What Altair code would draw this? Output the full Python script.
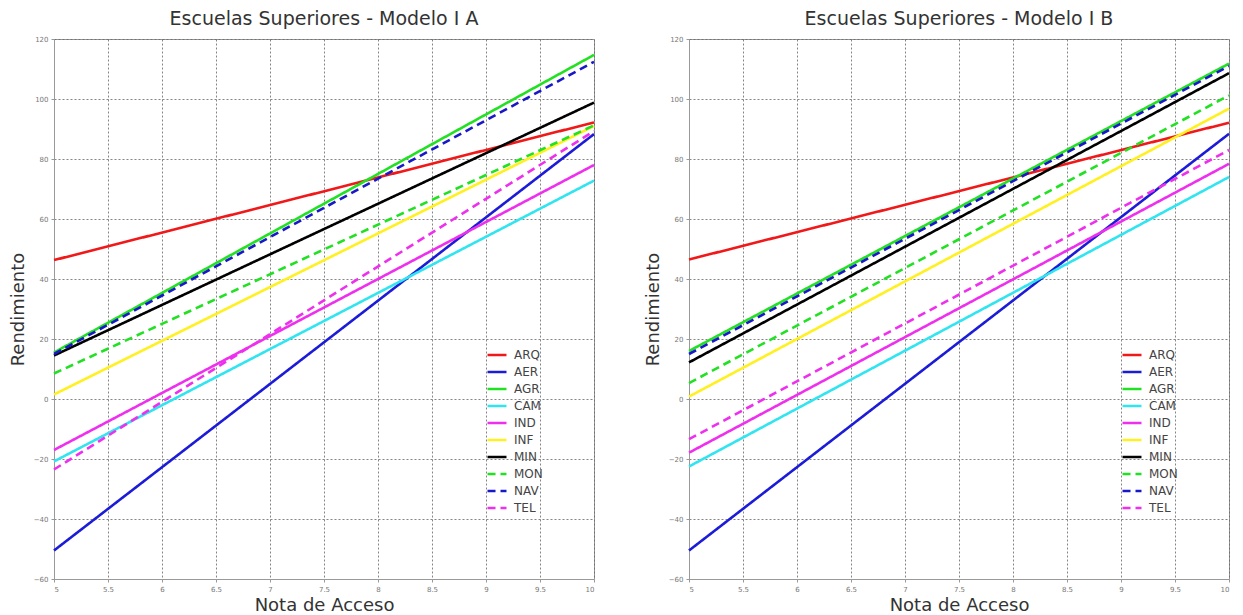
import altair as alt
import pandas as pd

series = ["ARQ", "AER", "AGR", "CAM", "IND", "INF", "MIN", "MON", "NAV", "TEL"]
colors = ["#f01818", "#1c1cd8", "#22e022", "#30e4f0", "#ee30ee", "#fff020", "#000000", "#22e022", "#1818c8", "#ee30ee"]
dashes = [[1, 0], [1, 0], [1, 0], [1, 0], [1, 0], [1, 0], [1, 0], [8, 5], [8, 5], [8, 5]]

x_points = [5, 10]
# Modelo I A: values at nota 5 and nota 10
a_start = [46.3, -50.5, 15.5, -20.8, -17.0, 1.5, 14.5, 8.5, 15.0, -23.5]
a_end = [92.2, 88.3, 114.7, 72.8, 78.0, 91.0, 98.8, 91.2, 112.4, 89.3]
# Modelo I B
b_start = [46.5, -50.5, 16.0, -22.5, -17.9, 0.8, 12.2, 5.3, 15.0, -13.4]
b_end = [92.1, 88.4, 111.8, 74.0, 78.4, 96.8, 108.6, 101.2, 111.0, 83.0]

x_ticks = [5, 5.5, 6, 6.5, 7, 7.5, 8, 8.5, 9, 9.5, 10]
y_ticks = [-60, -40, -20, 0, 20, 40, 60, 80, 100, 120]


def make_df(starts, ends):
    rows = []
    for i, s in enumerate(series):
        rows.append({"serie": s, "nota": x_points[0], "rend": starts[i], "ord": i})
        rows.append({"serie": s, "nota": x_points[1], "rend": ends[i], "ord": i})
    return pd.DataFrame(rows)


FONT = "DejaVu Sans"


def legend():
    return alt.Legend(title=None, orient="none", legendX=432, legendY=305,
                      symbolType="stroke", symbolStrokeWidth=2.5, symbolSize=360,
                      labelFontSize=12, labelColor="#444444", labelFont=FONT,
                      rowPadding=0, labelOffset=6)


def panel(df, title):
    return alt.Chart(df, title=alt.Title(title, fontSize=19, fontWeight="normal", color="#333333",
                                          font=FONT, offset=6)).mark_line(strokeWidth=2.6).encode(
        x=alt.X("nota:Q", scale=alt.Scale(domain=[5, 10], nice=False),
                axis=alt.Axis(values=x_ticks, title="Nota de Acceso", format="~g",
                              labelFontSize=7, labelColor="#777777", labelPadding=3,
                              titleFontSize=18, titleFontWeight="normal", titleColor="#333333",
                              titleFont=FONT, labelFont=FONT, titlePadding=4,
                              grid=True, gridDash=[2, 2], gridColor="#666666", gridOpacity=0.8,
                              domainColor="#999999", tickColor="#999999", tickSize=3)),
        y=alt.Y("rend:Q", scale=alt.Scale(domain=[-60, 120], nice=False),
                axis=alt.Axis(values=y_ticks, title="Rendimiento",
                              labelFontSize=7, labelColor="#777777", labelPadding=3,
                              titleFontSize=18, titleFontWeight="normal", titleColor="#333333",
                              titleFont=FONT, labelFont=FONT, titlePadding=6,
                              grid=True, gridDash=[2, 2], gridColor="#666666", gridOpacity=0.8,
                              domainColor="#999999", tickColor="#999999", tickSize=3)),
        color=alt.Color("serie:N", scale=alt.Scale(domain=series, range=colors), legend=legend()),
        strokeDash=alt.StrokeDash("serie:N", scale=alt.Scale(domain=series, range=dashes),
                                  legend=legend()),
        order=alt.Order("ord:Q"),
        detail="serie:N",
    ).properties(width=540, height=540)


left = panel(make_df(a_start, a_end), "Escuelas Superiores - Modelo I A")
right = panel(make_df(b_start, b_end), "Escuelas Superiores - Modelo I B")

chart = alt.hconcat(left, right, spacing=43).resolve_scale(
    color="independent", strokeDash="independent"
).resolve_legend(color="independent", strokeDash="independent").configure_view(
    stroke="#999999", strokeWidth=1
).properties(padding={"left": 8, "top": 9, "right": 5, "bottom": 0}, background="white")

chart.save("out.html", embed_options={"renderer": "svg", "actions": False})
